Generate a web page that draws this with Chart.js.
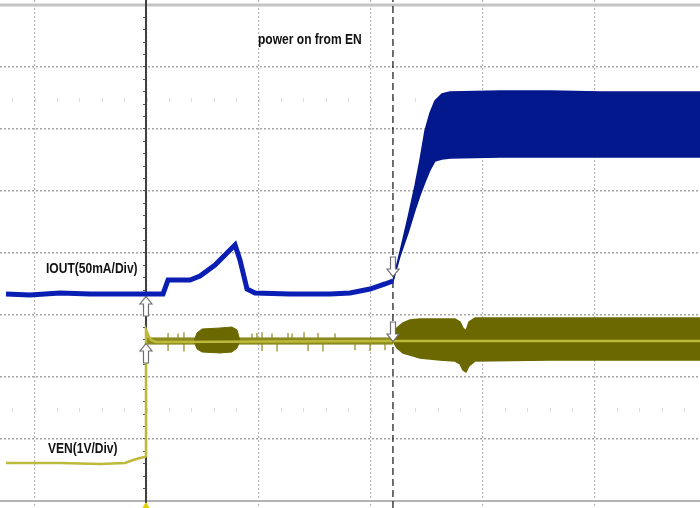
<!DOCTYPE html>
<html><head><meta charset="utf-8">
<style>html,body{margin:0;padding:0;background:#fff;overflow:hidden}canvas{display:block}</style>
<script src="https://cdn.jsdelivr.net/npm/chart.js@4.4.1/dist/chart.umd.min.js"></script>
</head><body>
<canvas id="c" width="700" height="508"></canvas>
<script>
// All values in screen divisions (x: time divisions, y: vertical divisions 0..8)
const ioutX = [-0.259,-0.045,0.223,0.491,0.759,0.982,1.143,1.188,1.384,1.473,1.607,1.723,1.786,1.830,1.893,1.964,2.277,2.634,2.813,2.991,3.125,3.196];
const ioutY = [3.339,3.323,3.355,3.339,3.339,3.339,3.339,3.565,3.565,3.629,3.806,4.016,4.129,3.887,3.419,3.355,3.339,3.339,3.355,3.419,3.500,3.548];

const ioutBandX      = [3.196,3.259,3.330,3.393,3.438,3.482,3.527,3.571,3.634,3.705,4.152,4.598,5.045,5.491,5.938];
const ioutBandTop    = [3.548,4.016,4.565,5.081,5.500,5.968,6.258,6.452,6.565,6.597,6.613,6.613,6.597,6.597,6.597];
const ioutBandBottom = [3.548,3.952,4.323,4.694,4.935,5.145,5.339,5.484,5.516,5.532,5.548,5.548,5.548,5.548,5.548];

const venX = [-0.259,0.223,0.580,0.804,0.875,0.938,0.982,0.991,0.991,1.009,1.036,1.080,3.196,5.938];
const venY = [0.613,0.613,0.597,0.613,0.661,0.694,0.710,0.726,2.758,2.680,2.597,2.565,2.581,2.581];

const venNoiseX      = [1.000,3.196];
const venNoiseTop    = [2.630,2.630];
const venNoiseBottom = [2.530,2.530];

const venBurstX      = [1.420,1.446,1.491,1.652,1.759,1.804,1.830];
const venBurstTop    = [2.581,2.710,2.774,2.790,2.806,2.758,2.581];
const venBurstBottom = [2.581,2.452,2.403,2.387,2.403,2.468,2.581];

const venBandX      = [3.196,3.232,3.286,3.348,3.438,3.616,3.750,3.795,3.821,3.848,3.875,3.929,4.598,5.268,5.938];
const venBandTop    = [2.581,2.790,2.871,2.919,2.935,2.935,2.935,2.887,2.790,2.742,2.887,2.952,2.952,2.952,2.952];
const venBandBottom = [2.581,2.468,2.387,2.355,2.306,2.274,2.258,2.210,2.113,2.081,2.177,2.258,2.274,2.274,2.274];

const venSpikeX   = [1.188,1.277,1.330,1.938,1.982,2.027,2.116,2.161,2.259,2.295,2.402,2.438,2.527,2.571,2.679,2.857,2.991,3.125];
const venSpikeTop = [2.710,2.700,2.720,2.700,2.710,2.720,2.700,2.581,2.710,2.700,2.720,2.581,2.710,2.581,2.700,2.581,2.581,2.581];
const venSpikeBot = [2.420,2.581,2.410,2.581,2.581,2.420,2.581,2.410,2.581,2.581,2.581,2.420,2.581,2.410,2.581,2.430,2.420,2.430];

const cursorSolidX = 0.991;
const cursorDashX = 3.196;
const arrowUp   = [{x:0.991,y:3.306},{x:0.991,y:2.548}];
const arrowDown = [{x:3.196,y:3.613},{x:3.196,y:2.565}];
const minorRowA = 6.5, minorRowB = 1.5;

const xMin = -0.3125, xMax = 5.9375, yMin = -0.113, yMax = 8.08;

const labels = [
  {text:'power on from EN', x:1.991, y:7.371},
  {text:'IOUT(50mA/Div)', x:0.098, y:3.677},
  {text:'VEN(1V/Div)', x:0.116, y:0.774}
];

function zip(xs, ys){ return xs.map((x,i)=>({x, y:ys[i]})); }
function spikes(){
  const out=[];
  venSpikeX.forEach((x,i)=>{ out.push({x,y:venSpikeTop[i]}); out.push({x,y:venSpikeBot[i]}); out.push({x,y:null}); });
  return out;
}
function makeArrow(dir){
  const c=document.createElement('canvas'); c.width=16; c.height=50;
  const g=c.getContext('2d');
  g.save();
  if(dir==='down'){ g.translate(0,50); g.scale(1,-1); }
  g.beginPath();
  g.moveTo(8,25.5); g.lineTo(14,33); g.lineTo(10.5,33); g.lineTo(10.5,45); g.lineTo(5.5,45); g.lineTo(5.5,33); g.lineTo(2,33); g.closePath();
  g.fillStyle='#ffffff'; g.fill();
  g.lineWidth=1.2; g.strokeStyle='#6e6e6e'; g.stroke();
  g.restore();
  return c;
}
const upImg = makeArrow('up'), downImg = makeArrow('down');

const line = (data, color, width, order, extra) => Object.assign({
  type:'line', data, borderColor:color, backgroundColor:color, borderWidth:width,
  pointRadius:0, tension:0, fill:false, order, spanGaps:false
}, extra||{});

const textPlugin = {
  id:'texts',
  afterDatasetsDraw(chart){
    const ctx=chart.ctx, xs=chart.scales.x, ys=chart.scales.y;
    ctx.save();
    ctx.fillStyle='#111';
    ctx.font='bold 14px "Liberation Sans", Arial, sans-serif';
    ctx.textBaseline='alphabetic';
    labels.forEach(l=>{
      ctx.save();
      ctx.translate(xs.getPixelForValue(l.x), ys.getPixelForValue(l.y));
      ctx.scale(0.86,1);
      ctx.fillText(l.text,0,0);
      ctx.restore();
    });
    ctx.restore();
  }
};

const minorAxis = (pos) => ({type:'linear', axis:'x', position:{y:pos}, min:xMin, max:xMax,
  ticks:{display:false, stepSize:0.2, includeBounds:false},
  grid:{drawOnChartArea:false, drawTicks:true, tickLength:4, tickColor:'#dcdcdc', tickWidth:1},
  border:{display:false}});

new Chart(document.getElementById('c'), {
  type:'line',
  data:{ datasets:[
    // borders
    line([{x:xMin,y:8},{x:xMax,y:8}], '#c4c4c4', 3, 20),
    line([{x:xMin,y:0},{x:xMax,y:0}], '#b4b4b4', 2, 20),
    // cursors
    line([{x:cursorSolidX,y:yMin},{x:cursorSolidX,y:yMax}], '#404040', 2, 15),
    line([{x:cursorDashX,y:yMin},{x:cursorDashX,y:yMax}], '#111111', 1.2, 15, {borderDash:[7,4]}),
    // IOUT band
    line(zip(ioutBandX, ioutBandTop), '#03188c', 1.5, 8, {fill:'+1', backgroundColor:'#03188c'}),
    line(zip(ioutBandX, ioutBandBottom), '#03188c', 1.5, 8),
    // IOUT trace
    line(zip(ioutX, ioutY), '#0a1eb4', 5, 5),
    // VEN bands
    line(zip(venNoiseX, venNoiseTop), '#8c8a1e', 1, 9, {fill:'+1', backgroundColor:'#8c8a1e'}),
    line(zip(venNoiseX, venNoiseBottom), '#8c8a1e', 1, 9),
    line(zip(venBurstX, venBurstTop), '#6b6800', 1, 8, {fill:'+1', backgroundColor:'#6b6800'}),
    line(zip(venBurstX, venBurstBottom), '#6b6800', 1, 8),
    line(zip(venBandX, venBandTop), '#6b6800', 1.5, 8, {fill:'+1', backgroundColor:'#6b6800'}),
    line(zip(venBandX, venBandBottom), '#6b6800', 1.5, 8),
    line(spikes(), '#8a8720', 1.2, 9),
    // VEN trace
    line(zip(venX, venY), '#bdb93a', 2.5, 5),
    // markers
    {type:'scatter', data:arrowUp, pointStyle:upImg, pointRadius:8, order:1},
    {type:'scatter', data:arrowDown, pointStyle:downImg, pointRadius:8, order:1},
    {type:'scatter', data:[{x:cursorSolidX,y:-0.085}], pointStyle:'triangle', pointRadius:3.5, backgroundColor:'#e0d000', borderColor:'#e0d000', order:1}
  ]},
  options:{
    responsive:false, animation:false, devicePixelRatio:1,
    layout:{padding:0, autoPadding:false},
    plugins:{legend:{display:false}, tooltip:{enabled:false}},
    scales:{
      x:{type:'linear', min:xMin, max:xMax,
         ticks:{display:false, stepSize:1, includeBounds:false},
         grid:{drawTicks:false, color:'rgba(175,175,175,0.9)', lineWidth:1.2},
         border:{display:false, dash:[2,2]}},
      y:{type:'linear', min:yMin, max:yMax,
         ticks:{display:false, stepSize:1, includeBounds:false},
         grid:{drawTicks:false, color:'rgba(160,160,160,0.95)', lineWidth:1.5},
         border:{display:false, dash:[2,2]}},
      yc:{type:'linear', axis:'y', position:{x:cursorSolidX}, min:yMin, max:yMax,
         ticks:{display:false, stepSize:0.2, includeBounds:false},
         grid:{drawOnChartArea:false, drawTicks:true, tickLength:3, tickColor:'#555', tickWidth:1, lineWidth:1},
         border:{display:false}},
      xa:minorAxis(minorRowA),
      xb:minorAxis(minorRowB)
    }
  },
  plugins:[textPlugin]
});
</script>
</body></html>
